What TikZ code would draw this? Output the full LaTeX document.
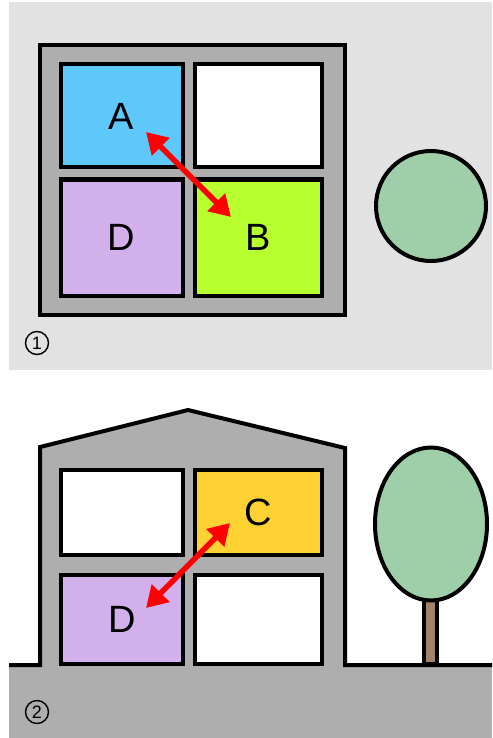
\documentclass[tikz,border=0pt]{standalone}
\usepackage{fontspec}
\setmainfont{Liberation Sans}
\usetikzlibrary{arrows.meta,shapes.geometric}
\definecolor{panelgray}{HTML}{E2E2E2}
\definecolor{wallgray}{HTML}{AEAEAE}
\definecolor{roomblue}{HTML}{5EC8FA}
\definecolor{roompurple}{HTML}{D2B0EB}
\definecolor{roomgreen}{HTML}{B8FF30}
\definecolor{roomyellow}{HTML}{FED232}
\definecolor{leafgreen}{HTML}{9FCFA9}
\definecolor{trunkbrown}{HTML}{A3826A}
\tikzset{
  outline/.style={draw=black, line width=4pt, line join=miter},
  room/.style={outline, rectangle, inner sep=0pt, font=\fontsize{38}{38}\selectfont},
  link/.style={draw=red, line width=5.5pt, {Triangle[length=21pt,width=24pt]}-{Triangle[length=21pt,width=24pt]}},
  stage/.style={draw=black, line width=1.4pt, circle, minimum size=23pt, inner sep=0pt, font=\fontsize{18}{18}\selectfont}
}
\begin{document}
\begin{tikzpicture}[x=1pt, y=-1pt]
\useasboundingbox (0,0) rectangle (492,738);
\fill[white] (0,0) rectangle (492,738);

% ---- plan view ----
\fill[panelgray] (9,2) rectangle (492,370);
\path[outline, fill=wallgray] (39.5,45.5) rectangle (344.5,314.5);
\node[room, fill=roomblue, minimum width=122pt, minimum height=103pt] (A) at (121.5,116) {A};
\node[room, fill=white, minimum width=127pt, minimum height=103pt] (E1) at (258,116) {};
\node[room, fill=roompurple, minimum width=122pt, minimum height=116pt] (D1) at (121.5,237.5) {D};
\node[room, fill=roomgreen, minimum width=127pt, minimum height=116pt] (B) at (258,237.5) {B};
\node[outline, circle, fill=leafgreen, minimum size=110pt, inner sep=0pt] (crown1) at (431,206) {};
\coordinate (a1) at (146,132);
\coordinate (b1) at (231,217);
\draw[link] (a1) -- (b1);
\node[stage] (s1) at (37,343) {1};

% ---- section view ----
\fill[wallgray] (9,665) rectangle (492,738);
\path[fill=wallgray] (40,665) -- (40,447) -- (188,410) -- (345,448) -- (345,665) -- cycle;
\draw[outline] (9,665) -- (40,665) -- (40,447) -- (188,410) -- (345,448) -- (345,665) -- (492,665);
\node[room, fill=white, minimum width=122pt, minimum height=85pt] (E2) at (122,512) {};
\node[room, fill=roomyellow, minimum width=127pt, minimum height=85pt] (C) at (258,512) {C};
\node[room, fill=roompurple, minimum width=122pt, minimum height=89pt] (D2) at (122,619) {D};
\node[room, fill=white, minimum width=127pt, minimum height=89pt] (E3) at (258,619) {};
\node[outline, rectangle, fill=trunkbrown, minimum width=13pt, minimum height=64pt, inner sep=0pt] (trunk) at (430.5,632) {};
\node[outline, ellipse, fill=leafgreen, minimum width=112pt, minimum height=153pt, inner sep=0pt] (crown2) at (431,524) {};
\coordinate (c2) at (230,523);
\coordinate (d2) at (146,608);
\draw[link] (c2) -- (d2);
\node[stage] (s2) at (37,712) {2};
\end{tikzpicture}
\end{document}
